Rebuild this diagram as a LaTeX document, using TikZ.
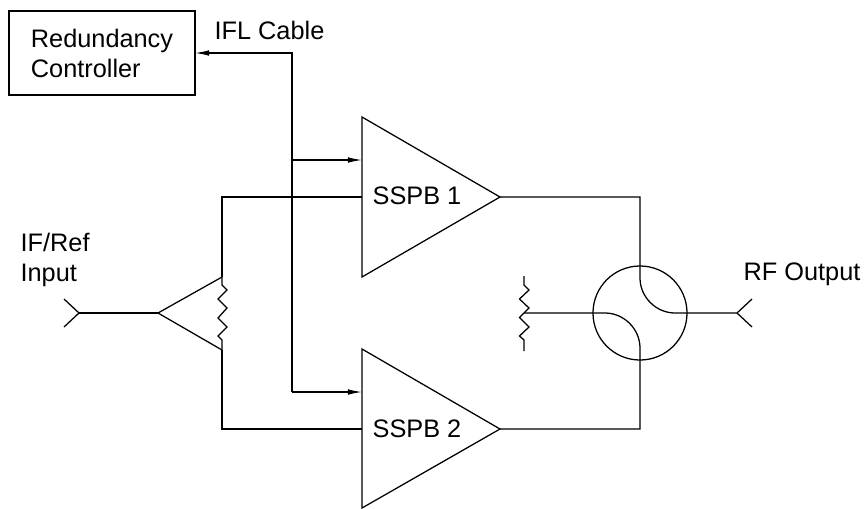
\documentclass[tikz,border=0pt]{standalone}
\usepackage{fontspec}
\setmainfont{Liberation Sans}
\usetikzlibrary{arrows.meta}
\begin{document}
\begin{tikzpicture}[x=0.025cm, y=-0.025cm, line width=0.9pt, >={Latex[length=10pt,width=4pt]},main node/.style={draw,outer sep=0pt,inner sep=0pt},label node/.style={anchor=base west,inner sep=0pt,font=\fontsize{18}{21.3}\selectfont,align=left}]
\useasboundingbox (0,0) rectangle (868,508);

\node [main node,label node,anchor=center,minimum width=4.65cm,minimum height=2.1cm](v1) at (102,53) {Redundancy\\Controller};
\node [main node,circle,minimum size=2.35cm](v2) at (640,313) {};

\node [label node](l1) at (214,39) {IFL Cable};
\node [label node](l2) at (20,251) {IF/Ref};
\node [label node](l3) at (20,281) {Input};
\node [label node](l4) at (743,280) {RF Output};
\node [label node](l5) at (372,204) {SSPB 1};
\node [label node](l6) at (372,437) {SSPB 2};

\coordinate (a1) at (362,117);
\coordinate (a2) at (500,197);
\coordinate (a3) at (362,277);
\coordinate (b1) at (362,349);
\coordinate (b2) at (500,429);
\coordinate (b3) at (362,508);
\coordinate (c1) at (158,313);
\coordinate (c2) at (222,277);
\coordinate (c3) at (222,350);
\coordinate (i1) at (79,313);
\coordinate (o1) at (737,313);
\coordinate (t1) at (292,53);
\coordinate (t2) at (292,160);
\coordinate (t3) at (292,392);
\coordinate (e1) at (362,160);
\coordinate (e2) at (362,392);
\coordinate (r1) at (524,313);

\draw (a1) -- (a2) -- (a3) -- cycle;
\draw (b1) -- (b2) -- (b3) -- cycle;
\draw (c1) -- (c2);
\draw (c1) -- (c3);

\draw [->] (t3) -- (t1) -- (v1.east |- t1);
\draw [->] (t2) -- (e1);
\draw [->] (t3) -- (e2);

\draw (i1) -- (c1);
\draw (64,299) -- (i1) -- (64,327);
\draw (o1) -- (752,299);
\draw (o1) -- (752,327);

\draw (362,197) -- (222,197) -- (c2);
\draw (c3) -- (222,429) -- (362,429);

\draw (c2) -- (222,285) -- (227,290) -- (218,299) -- (227,308) -- (218,318) -- (227,327) -- (218,336) -- (222,340) -- (c3);
\draw (524,276) -- (524,285) -- (529,290) -- (519.5,299) -- (529,308) -- (519.5,317.5) -- (529,327) -- (519.5,336) -- (524,340) -- (524,351);

\draw (a2) -- (640,197) -- (640,278) .. controls (640,297) and (656,313) .. (675,313) -- (o1);
\draw (b2) -- (640,429) -- (640,348) .. controls (640,329) and (624,313) .. (605,313) -- (r1);
\end{tikzpicture}
\end{document}
